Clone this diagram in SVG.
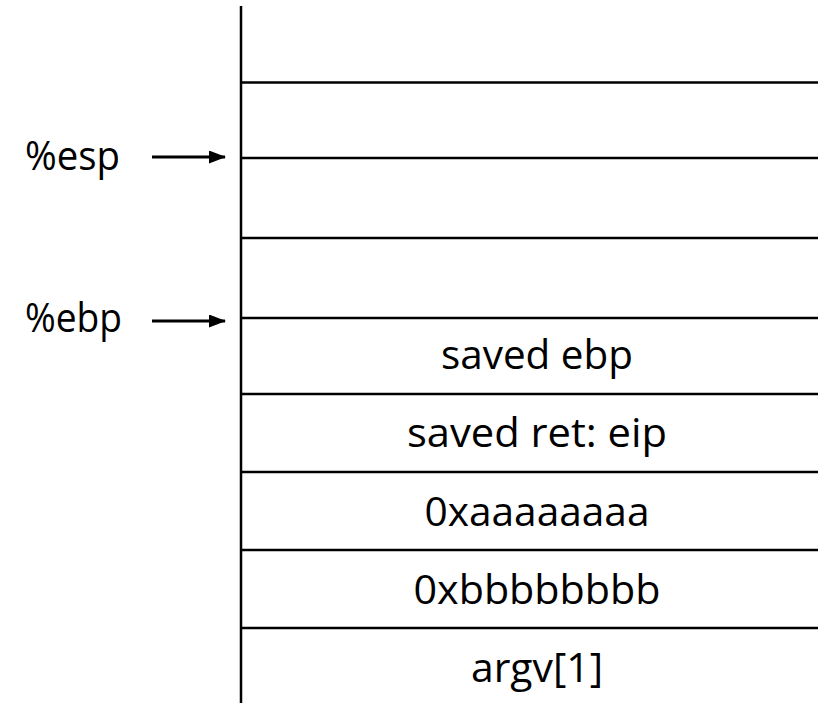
<svg xmlns="http://www.w3.org/2000/svg" width="818" height="703" viewBox="0 0 818 703">
  <style>
    .rule { stroke: #000; stroke-width: 2.5; fill: none; }
    .lbl { font-family: "Open Sans", "Noto Sans", "Liberation Sans", sans-serif; font-size: 40px; fill: #000; }
    .cell { text-anchor: middle; }
    .ptr { stroke: #000; stroke-width: 3; fill: none; }
  </style>
  <defs>
    <marker id="head" markerWidth="17" markerHeight="13" refX="16" refY="6.5" orient="auto" markerUnits="userSpaceOnUse">
      <path d="M0,0 L17,6.5 L0,13 Z" fill="#000"/>
    </marker>
  </defs>
  <rect width="818" height="703" fill="#fff"/>

  <!-- stack spine -->
  <g id="spine">
    <line class="rule" x1="241" y1="6" x2="241" y2="703"/>
  </g>

  <!-- stack slots, top to bottom -->
  <g id="slot-0"><line class="rule" x1="241" y1="82.5" x2="818" y2="82.5"/></g>
  <g id="slot-1"><line class="rule" x1="241" y1="158" x2="818" y2="158"/></g>
  <g id="slot-2"><line class="rule" x1="241" y1="238" x2="818" y2="238"/></g>
  <g id="slot-3"><line class="rule" x1="241" y1="318" x2="818" y2="318"/></g>
  <g id="saved-ebp">
    <text class="lbl cell" x="537" y="369" textLength="192" lengthAdjust="spacingAndGlyphs">saved ebp</text>
    <line class="rule" x1="241" y1="394" x2="818" y2="394"/>
  </g>
  <g id="saved-ret">
    <text class="lbl cell" x="537" y="447" textLength="260" lengthAdjust="spacingAndGlyphs">saved ret: eip</text>
    <line class="rule" x1="241" y1="472" x2="818" y2="472"/>
  </g>
  <g id="arg-a">
    <text class="lbl cell" x="537" y="526" textLength="225" lengthAdjust="spacingAndGlyphs">0xaaaaaaaa</text>
    <line class="rule" x1="241" y1="550" x2="818" y2="550"/>
  </g>
  <g id="arg-b">
    <text class="lbl cell" x="537" y="604" textLength="247" lengthAdjust="spacingAndGlyphs">0xbbbbbbbb</text>
    <line class="rule" x1="241" y1="628" x2="818" y2="628"/>
  </g>
  <g id="argv1">
    <text class="lbl cell" x="537" y="682" textLength="132" lengthAdjust="spacingAndGlyphs">argv[1]</text>
  </g>

  <!-- register labels -->
  <g id="esp">
    <text class="lbl" x="25" y="170" textLength="95" lengthAdjust="spacingAndGlyphs">%esp</text>
  </g>
  <g id="ebp">
    <text class="lbl" x="25" y="332" textLength="97" lengthAdjust="spacingAndGlyphs">%ebp</text>
  </g>

  <!-- register pointers -->
  <g id="connectors">
    <line class="ptr" x1="152" y1="157" x2="225" y2="157" marker-end="url(#head)"/>
    <line class="ptr" x1="152" y1="321" x2="225" y2="321" marker-end="url(#head)"/>
  </g>
</svg>
